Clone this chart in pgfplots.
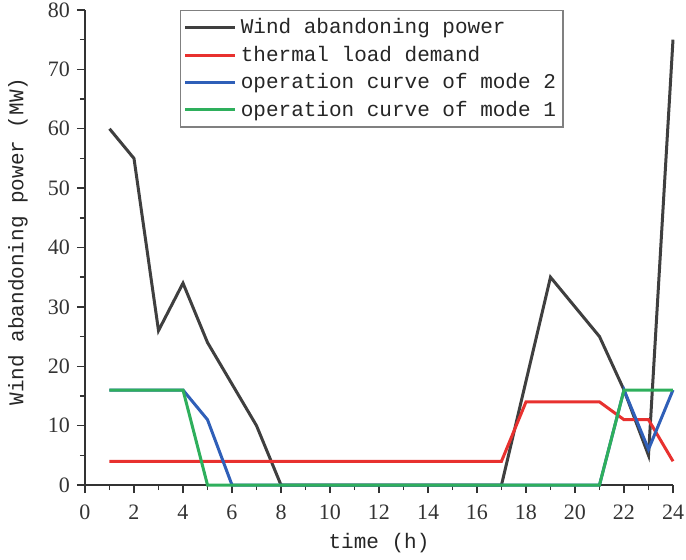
\documentclass[border=0pt]{standalone}
\usepackage{fontspec}
\setmainfont{Liberation Serif}
\setmonofont{Liberation Mono}
\usepackage{pgfplots}
\pgfplotsset{compat=1.18}

\definecolor{cWind}{HTML}{3F3F3F}
\definecolor{cHeat}{HTML}{E8312F}
\definecolor{cMode2}{HTML}{2F5FB8}
\definecolor{cMode1}{HTML}{2EAF5C}

\begin{document}
\begin{tikzpicture}
\begin{axis}[
    scale only axis,
    at={(0,0)}, anchor=south west,
    width=294pt, height=237.5pt,
    axis lines=left,
    axis line style={-, line width=0.8pt, black!80},
    xmin=0, xmax=24, ymin=0, ymax=80,
    xtick={0,2,...,24}, ytick={0,10,...,80},
    minor x tick num=1, minor y tick num=1,
    tick align=outside,
    major tick length=4pt, minor tick length=2.5pt,
    tick style={line width=0.7pt, black!80},
    /pgf/number format/assume math mode=true,
    ticklabel style={font=\fontsize{11}{12}\selectfont, text=black!80},
    xticklabel style={yshift=-2.5pt},
    xlabel={time (h)},
    ylabel={Wind abandoning power (MW)},
    every axis x label/.style={at={(axis description cs:0.5,0)}, yshift=-29pt, anchor=center,
        font=\ttfamily\fontsize{10.5}{12}\selectfont, text=black!85},
    every axis y label/.style={at={(axis description cs:0,0.5)}, xshift=-33.5pt, yshift=3pt, rotate=90, anchor=center,
        font=\ttfamily\fontsize{10.5}{12}\selectfont, text=black!85},
    clip=false,
    legend style={
        at={(0.162,1)}, anchor=north west,
        draw=black!50, line width=0.6pt,
        font=\ttfamily\fontsize{10.5}{12}\selectfont,
        text=black!85,
        row sep=0.6pt,
        inner xsep=1.5pt, inner ysep=2pt,
        cells={anchor=west},
    },
    legend image code/.code={
        \draw[#1, line width=1.5pt] (0pt,0pt) -- (25pt,0pt);
    },
    every axis plot/.append style={line width=1.5pt},
]

\addplot[cWind] coordinates {
    (1,60) (2,55) (3,26) (4,34) (5,24) (6,17) (7,10) (8,0) (9,0) (10,0)
    (11,0) (12,0) (13,0) (14,0) (15,0) (16,0) (17,0) (18,17.5) (19,35)
    (20,30) (21,25) (22,16) (23,5) (24,75)
};
\addlegendentry{Wind abandoning power}

\addplot[cHeat] coordinates {
    (1,4) (2,4) (3,4) (4,4) (5,4) (6,4) (7,4) (8,4) (9,4) (10,4) (11,4)
    (12,4) (13,4) (14,4) (15,4) (16,4) (17,4) (18,14) (19,14) (20,14)
    (21,14) (22,11) (23,11) (24,4)
};
\addlegendentry{thermal load demand}

\addplot[cMode2] coordinates {
    (1,16) (2,16) (3,16) (4,16) (5,11) (6,0) (7,0) (8,0) (9,0) (10,0)
    (11,0) (12,0) (13,0) (14,0) (15,0) (16,0) (17,0) (18,0) (19,0) (20,0)
    (21,0) (22,16) (23,6) (24,16)
};
\addlegendentry{operation curve of mode 2}

\addplot[cMode1] coordinates {
    (1,16) (2,16) (3,16) (4,16) (5,0) (6,0) (7,0) (8,0) (9,0) (10,0)
    (11,0) (12,0) (13,0) (14,0) (15,0) (16,0) (17,0) (18,0) (19,0) (20,0)
    (21,0) (22,16) (23,16) (24,16)
};
\addlegendentry{operation curve of mode 1}

\end{axis}
\pgfresetboundingbox
\path (-42.5pt,-37pt) rectangle (300.5pt,242.5pt);
\end{tikzpicture}
\end{document}
